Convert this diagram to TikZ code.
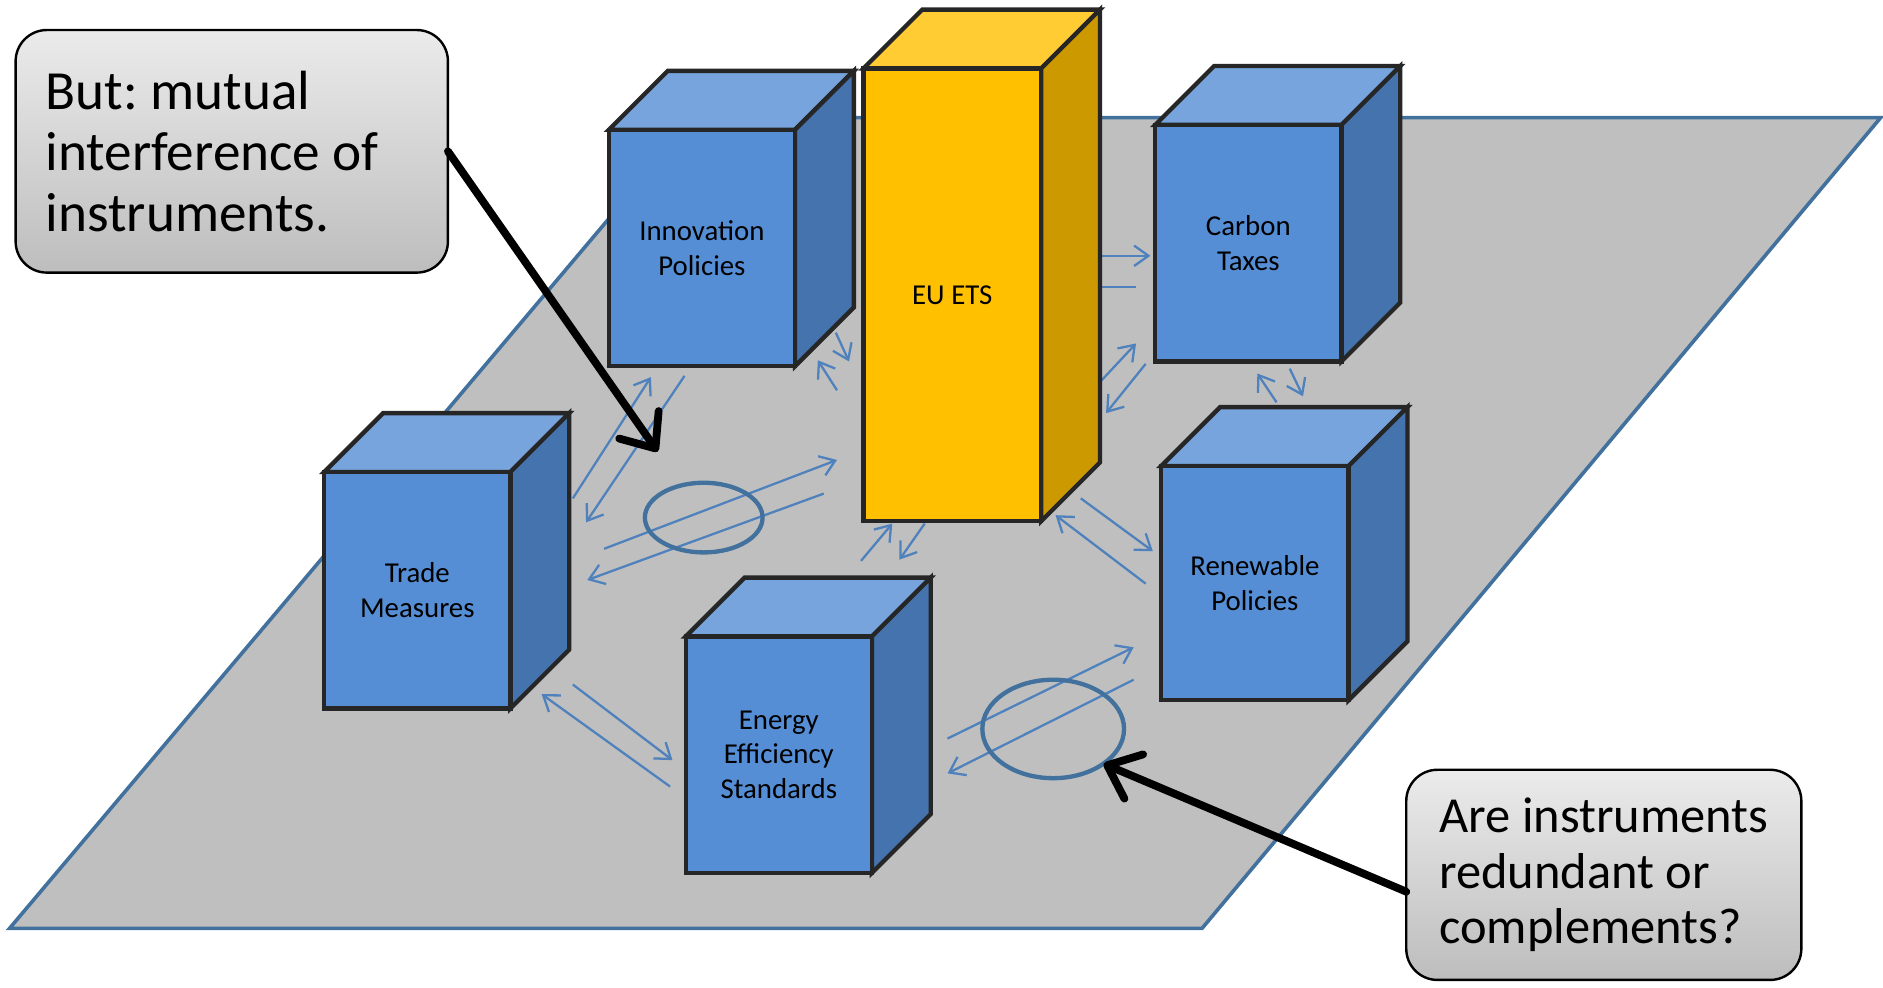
\documentclass[tikz,border=0pt]{standalone}
\usepackage{fontspec}
\setmainfont{Carlito}
\usetikzlibrary{shapes.geometric,arrows.meta,calc}

\definecolor{planefill}{HTML}{BFBFBF}
\definecolor{planeline}{HTML}{41719C}
\definecolor{linkblue}{HTML}{4F81BD}
\definecolor{boxline}{HTML}{262626}
\definecolor{bluefront}{HTML}{558ED5}
\definecolor{bluetop}{HTML}{77A4DC}
\definecolor{blueside}{HTML}{4573AD}
\definecolor{goldfront}{HTML}{FFC000}
\definecolor{goldtop}{HTML}{FFCC33}
\definecolor{goldside}{HTML}{CC9900}
\definecolor{notetop}{HTML}{EBEBEB}
\definecolor{notebottom}{HTML}{BDBDBD}

% block: name, x, y (front top left), width, height, palette, label
\newcommand{\instbox}[7]{%
  \filldraw[fill=#6top, draw=boxline, line width=3.6pt, line join=miter]
    (#2,#3) -- ++(49,-49) -- ++(#4,0) -- ++(-49,49) -- cycle;
  \filldraw[fill=#6side, draw=boxline, line width=3.6pt, line join=miter]
    (#2+#4,#3) -- ++(49,-49) -- ++(0,#5) -- ++(-49,49) -- cycle;
  \node[face, fill=#6front, minimum width=#4pt, minimum height=#5pt] (#1) at (#2,#3) {#7};
}

\begin{document}
\begin{tikzpicture}[x=1pt, y=-1pt,
  face/.style={draw=boxline, line width=3.6pt, anchor=north west, inner sep=0pt, outer sep=0pt,
    align=center, font=\fontsize{24}{29}\selectfont},
  link/.style={linkblue, line width=1.9pt, -{Straight Barb[length=12pt,width=17pt]}},
  ring/.style={ellipse, draw=planeline, line width=3.6pt, inner sep=0pt},
  note/.style={draw=black, line width=2pt, rounded corners=26pt, top color=notetop,
    bottom color=notebottom, anchor=north west, outer sep=0pt},
  callarrow/.style={line width=6.5pt, line cap=round, -{Straight Barb[length=24pt,width=40pt,round]}}]
\useasboundingbox (0,0) rectangle (1568,822);

% floor
\filldraw[fill=planefill, draw=planeline, line width=3pt] (8,773) -- (578,98) -- (1566,98) -- (1001,773) -- cycle;

% interactions
\draw[link] (477,415) -- (542,314);
\draw[link] (570,313) -- (488,435);
\draw[link] (697,325) -- (681,300);
\draw[link] (696,277) -- (707,301);
\draw[link] (900,213) -- (958,213);
\draw[link] (946,239) -- (900,239);
\draw[link] (917,317) -- (946,286);
\draw[link] (954,303) -- (921,344);
\draw[link] (1063,335) -- (1047,311);
\draw[link] (1074,307) -- (1085,330);
\draw[link] (900,415) -- (960,459);
\draw[link] (954,486) -- (879,429);
\draw[link] (717,467) -- (743,436);
\draw[link] (770,436) -- (749,466);
\draw[link] (477,570) -- (560,633);
\draw[link] (558,655) -- (451,578);
\draw[link] (503,457) -- (697,383);
\draw[link] (686,411) -- (489,483);
\draw[link] (789,615) -- (944,539);
\draw[link] (944,566) -- (789,644);

\node[ring, minimum width=98pt, minimum height=58pt] (lring) at (586,431) {};
\node[ring, minimum width=118pt, minimum height=82pt] (rring) at (877,607) {};

% instruments
\instbox{innov}{507}{108}{155}{197}{blue}{Innovation\\Policies}
\instbox{ets}{719}{57}{148}{377}{gold}{EU ETS}
\instbox{carbon}{962}{104}{155}{197}{blue}{Carbon\\Taxes}
\instbox{trade}{270}{393}{155}{197}{blue}{Trade\\Measures}
\instbox{renew}{967}{388}{156}{195}{blue}{Renewable\\Policies}
\instbox{eff}{571}{530}{155}{197}{blue}{Energy\\Efficiency\\Standards}

% callouts
\node[note, minimum width=360pt, minimum height=202pt, text width=310pt, inner xsep=25pt,
  align=flush left, font=\fontsize{46}{51}\selectfont\frenchspacing] (lnote) at (13,25)
  {But: mutual\\interference of\\instruments.};
\node[note, minimum width=329pt, minimum height=175pt, align=left,
  font=\fontsize{42}{46}\selectfont\frenchspacing] (rnote) at (1171,641)
  {Are instruments\\redundant or\\complements?};

\draw[callarrow] (lnote.east) -- ($(lnote.east)!0.82!(lring.center)$);
\draw[callarrow] ([yshift=-14pt]rnote.west) -- ([xshift=42pt,yshift=-29pt]rring.center);
\end{tikzpicture}
\end{document}
